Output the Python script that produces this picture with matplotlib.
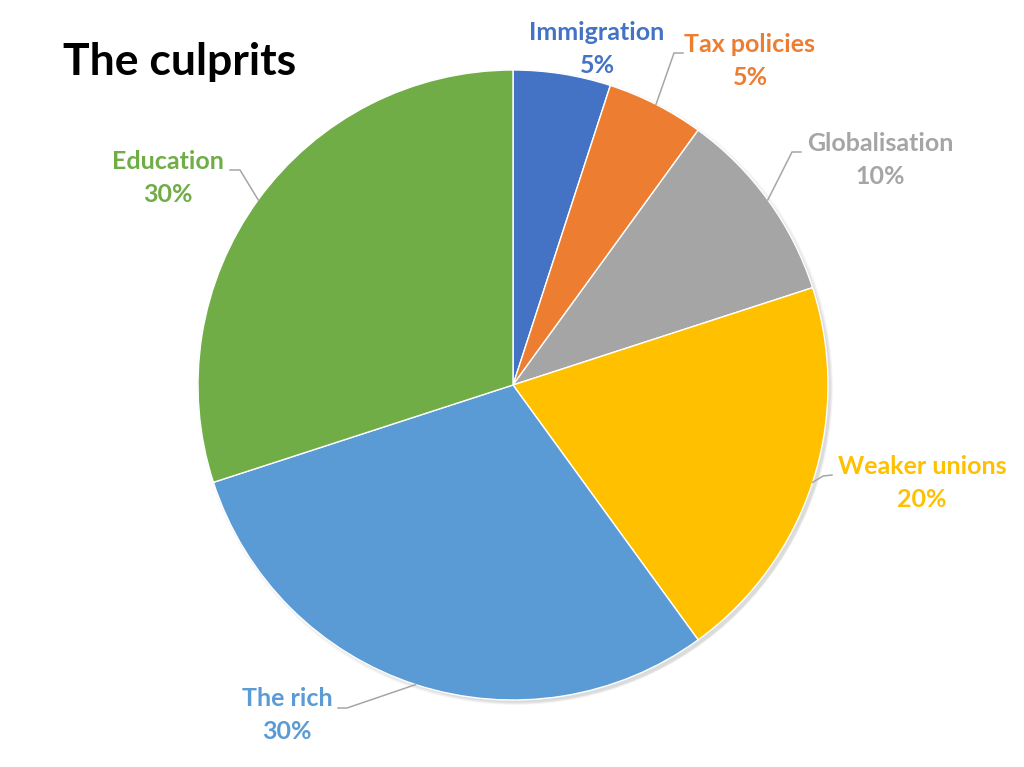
import numpy as np
import matplotlib.pyplot as plt
from matplotlib.patches import Circle

# data
labels = ['Immigration', 'Tax policies', 'Globalisation', 'Weaker unions', 'The rich', 'Education']
shares = [5, 5, 10, 20, 30, 30]
colors = ['#4472C4', '#ED7D31', '#A5A5A5', '#FFC000', '#5B9BD5', '#70AD47']

# layout (pixel coords, y from top)
label_pos = [(597, 49), (750, 61), (880, 160), (922, 483), (287, 715), (168, 178)]
elbow = [None, ((683, 53), (674, 53)), ((801, 152), (792, 152)),
         ((832, 475), (823, 476)), ((338, 708), (347, 708)), ((230, 170), (240, 170))]

W, H = 1024, 767
cx, cy, R = 513, H - 385, 315

plt.rcParams['font.family'] = ['Lato', 'DejaVu Sans']
fig = plt.figure(figsize=(W / 100, H / 100), dpi=100)
ax = fig.add_axes([0, 0, 1, 1])

# soft shadow
for k in range(6):
    ax.add_patch(Circle((cx + 2 + k * 0.5, cy - 2 - k * 0.5), R + 3 - k, color='black',
                        alpha=0.025, lw=0, zorder=1))

wedges, _ = ax.pie(shares, colors=colors, startangle=90, counterclock=False,
                   center=(cx, cy), radius=R, frame=True,
                   wedgeprops=dict(edgecolor='white', linewidth=1.0, zorder=2))
ax.set_xlim(0, W)
ax.set_ylim(0, H)
ax.set_aspect('equal')
ax.axis('off')

for i, w in enumerate(wedges):
    ang = np.deg2rad((w.theta1 + w.theta2) / 2)
    ex, ey = cx + R * np.cos(ang), cy + R * np.sin(ang)
    lx, ly = label_pos[i]
    ax.text(lx, H - ly, f'{labels[i]}\n{shares[i]}%', ha='center', va='center',
            fontsize=18, fontweight='bold', color=colors[i], linespacing=1.55, zorder=4)
    if elbow[i] is not None:
        (x0, y0), (x1, y1) = elbow[i]
        ax.plot([x0, x1, ex], [H - y0, H - y1, ey], color='#A6A6A6', lw=1.1, zorder=3)

ax.text(63, H - 62, 'The culprits', ha='left', va='center', fontsize=32,
        fontweight='bold', color='black')

fig.savefig('out.png', dpi=100)
